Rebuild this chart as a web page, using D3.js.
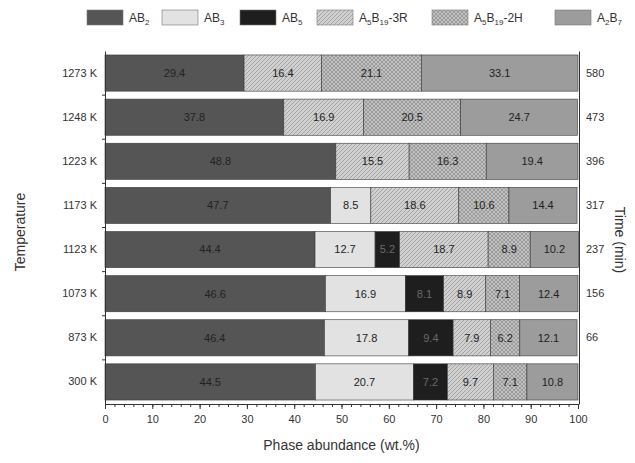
<!DOCTYPE html>
<html>
<head>
<meta charset="utf-8">
<script src="https://cdn.jsdelivr.net/npm/d3@7"></script>
<style>
  body { margin: 0; background: #fff; }
  text { font-family: Arial, "Liberation Sans", sans-serif; }
</style>
</head>
<body>
<script>
// temperatures, top to bottom
const temps = ["1273 K", "1248 K", "1223 K", "1173 K", "1123 K", "1073 K", "873 K", "300 K"];
const times = ["580", "473", "396", "317", "237", "156", "66", ""];

// phase abundance (wt.%) per temperature
const ab2     = [29.4, 37.8, 48.8, 47.7, 44.4, 46.6, 46.4, 44.5];
const ab3     = [0, 0, 0, 8.5, 12.7, 16.9, 17.8, 20.7];
const ab5     = [0, 0, 0, 0, 5.2, 8.1, 9.4, 7.2];
const a5b19R  = [16.4, 16.9, 15.5, 18.6, 18.7, 8.9, 7.9, 9.7];
const a5b19H  = [21.1, 20.5, 16.3, 10.6, 8.9, 7.1, 6.2, 7.1];
const a2b7    = [33.1, 24.7, 19.4, 14.4, 10.2, 12.4, 12.1, 10.8];

const phases = ["AB2", "AB3", "AB5", "A5B19-3R", "A5B19-2H", "A2B7"];
// label pieces: [text, subscript?]
const phaseLabels = [
  [["AB", 0], ["2", 1]],
  [["AB", 0], ["3", 1]],
  [["AB", 0], ["5", 1]],
  [["A", 0], ["5", 1], ["B", 0], ["19", 1], ["-3R", 0]],
  [["A", 0], ["5", 1], ["B", 0], ["19", 1], ["-2H", 0]],
  [["A", 0], ["2", 1], ["B", 0], ["7", 1]]
];
const xTicks = [0, 10, 20, 30, 40, 50, 60, 70, 80, 90, 100];

const w = 635, h = 463;
const mLeft = 105, mRight = 578, mTop = 51, mBottom = 404;

const rows = temps.map((t, i) => ({
  temp: t, time: times[i],
  "AB2": ab2[i], "AB3": ab3[i], "AB5": ab5[i],
  "A5B19-3R": a5b19R[i], "A5B19-2H": a5b19H[i], "A2B7": a2b7[i]
}));

const svg = d3.select("body").append("svg")
  .attr("width", w).attr("height", h);

const defs = svg.append("defs");
const p1 = defs.append("pattern").attr("id", "hatch")
  .attr("patternUnits", "userSpaceOnUse").attr("width", 4).attr("height", 4);
p1.append("rect").attr("width", 4).attr("height", 4).attr("fill", "#d0d0d0");
p1.append("path").attr("d", "M-1,1 l2,-2 M0,4 l4,-4 M3,5 l2,-2")
  .attr("stroke", "#999").attr("stroke-width", 0.8);

const p2 = defs.append("pattern").attr("id", "cross")
  .attr("patternUnits", "userSpaceOnUse").attr("width", 4).attr("height", 4);
p2.append("rect").attr("width", 4).attr("height", 4).attr("fill", "#c0c0c0");
p2.append("path").attr("d", "M-1,1 l2,-2 M0,4 l4,-4 M3,5 l2,-2 M-1,3 l2,2 M0,0 l4,4 M3,-1 l2,2")
  .attr("stroke", "#8c8c8c").attr("stroke-width", 0.7);

const fills = ["#555555", "#e2e2e2", "#1e1e1e", "url(#hatch)", "url(#cross)", "#9c9c9c"];
const color = d3.scaleOrdinal().domain(phases).range(fills);

const x = d3.scaleLinear().domain([0, 100]).range([mLeft, mRight]);
const y = d3.scaleBand().domain(temps).range([mTop, mBottom]).paddingInner(0.18).paddingOuter(0.09);

const stack = d3.stack().keys(phases)(rows);

const layer = svg.append("g").selectAll("g")
  .data(stack).enter().append("g")
  .attr("fill", d => color(d.key));

layer.selectAll("rect")
  .data(d => d.map(v => ({ key: d.key, v: v })).filter(d => d.v[1] - d.v[0] > 0))
  .enter().append("rect")
  .attr("x", d => x(d.v[0]))
  .attr("y", d => y(d.v.data.temp))
  .attr("width", d => x(d.v[1]) - x(d.v[0]))
  .attr("height", y.bandwidth())
  .attr("stroke", "#3a3a3a")
  .attr("stroke-width", 0.6);

layer.selectAll("text")
  .data(d => d.map(v => ({ key: d.key, v: v })).filter(d => d.v[1] - d.v[0] > 0))
  .enter().append("text")
  .attr("x", d => x((d.v[0] + d.v[1]) / 2))
  .attr("y", d => y(d.v.data.temp) + y.bandwidth() / 2)
  .attr("dy", "0.35em")
  .attr("text-anchor", "middle")
  .attr("font-size", 11)
  .attr("fill", d => d.key === "AB5" ? "#6a6a6a" : "#222")
  .text(d => d.v.data[d.key].toFixed(1));

// left axis (temperatures)
const yAxis = d3.axisLeft(y).tickSize(0).tickPadding(8);
const gy = svg.append("g").attr("transform", "translate(" + mLeft + ",0)").call(yAxis);
gy.select(".domain").attr("stroke", "#333");
gy.selectAll("text").attr("font-size", 11).attr("fill", "#333");
// small ticks between bands
svg.append("g").selectAll("line")
  .data(temps.slice(1)).enter().append("line")
  .attr("x1", mLeft - 3).attr("x2", mLeft)
  .attr("y1", d => y(d) - y.step() * y.paddingInner() / 2)
  .attr("y2", d => y(d) - y.step() * y.paddingInner() / 2)
  .attr("stroke", "#333");

// right axis (time)
const yR = d3.scaleBand().domain(times.map((t, i) => i)).range([mTop, mBottom]).paddingInner(0.18).paddingOuter(0.09);
const gr = svg.append("g").attr("transform", "translate(" + (mRight + 1) + ",0)")
  .call(d3.axisRight(yR).tickSize(0).tickPadding(7).tickFormat(i => times[i]));
gr.select(".domain").attr("stroke", "#333");
gr.selectAll("text").attr("font-size", 11).attr("fill", "#333");

// bottom axis
const gx = svg.append("g").attr("transform", "translate(0," + mBottom + ")")
  .call(d3.axisBottom(x).tickValues(xTicks).tickSize(5).tickPadding(6));
gx.select(".domain").attr("stroke", "#333");
gx.selectAll("line").attr("stroke", "#333");
gx.selectAll("text").attr("font-size", 11).attr("fill", "#333");
svg.append("g").attr("transform", "translate(0," + mBottom + ")")
  .call(d3.axisBottom(x).tickValues(d3.range(0, 101, 2)).tickSize(3).tickFormat(""))
  .call(g => g.select(".domain").remove())
  .selectAll("line").attr("stroke", "#333");

// titles
svg.append("text").attr("x", (mLeft + mRight) / 2).attr("y", 450)
  .attr("text-anchor", "middle").attr("font-size", 14).attr("fill", "#333")
  .text("Phase abundance (wt.%)");
svg.append("text").attr("transform", "translate(25,232) rotate(-90)")
  .attr("text-anchor", "middle").attr("font-size", 14).attr("fill", "#333")
  .text("Temperature");
svg.append("text").attr("transform", "translate(615,240) rotate(90)")
  .attr("text-anchor", "middle").attr("font-size", 14).attr("fill", "#333")
  .text("Time (min)");

// legend
const legX = [87, 162, 240, 317, 432, 555];
const leg = svg.append("g").selectAll("g")
  .data(phases).enter().append("g")
  .attr("transform", (d, i) => "translate(" + legX[i] + ",10)");
leg.append("rect").attr("width", 36).attr("height", 15)
  .attr("fill", d => color(d)).attr("stroke", "#777").attr("stroke-width", 0.6);
const lt = leg.append("text").attr("x", 42).attr("y", 12)
  .attr("font-size", 12).attr("fill", "#333");
lt.each(function(d, i) {
  const t = d3.select(this);
  let shifted = 0;
  phaseLabels[i].forEach(p => {
    const target = p[1] ? 3 : 0;
    t.append("tspan")
      .attr("font-size", p[1] ? 8 : 12)
      .attr("dy", target - shifted)
      .text(p[0]);
    shifted = target;
  });
});
</script>
</body>
</html>
